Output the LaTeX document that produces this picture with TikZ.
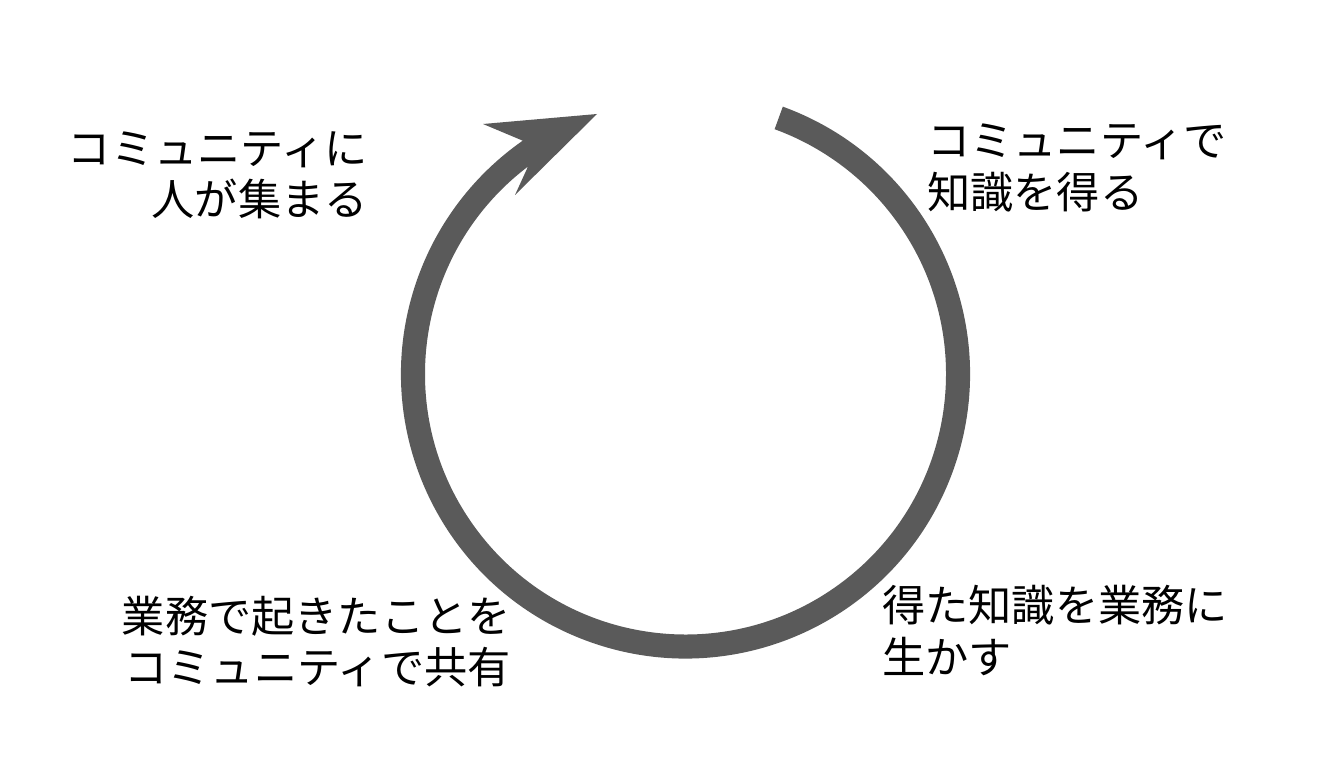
\documentclass[tikz,border=0pt]{standalone}
\usepackage{fontspec}
\newfontfamily\jpfont{Noto Sans CJK JP}
\definecolor{cyclegray}{HTML}{5A5A5A}
\tikzset{
  label text/.style={font=\jpfont\fontsize{32.4}{38.3}\selectfont, inner sep=0pt, text=black},
}
\begin{document}
\begin{tikzpicture}[x=0.75pt,y=0.75pt]
\useasboundingbox (0,0) rectangle (1338,758);
\coordinate (c) at (685.5,384);
\coordinate (start) at ([shift={(c)}]70:284.5);
\coordinate (barbA) at (483,634);
\coordinate (tip) at (597,644);
\coordinate (barbB) at (515,563);
\coordinate (notchB) at ([shift={(c)}]-232.8:260.5);
\fill[cyclegray] (start) arc[start angle=70, end angle=-235.1, radius=284.5]
  -- (barbA) -- (tip) -- (barbB) -- (notchB)
  arc[start angle=-232.8, end angle=70, radius=260.5] -- cycle;
\node[label text, align=right, anchor=east] (tl) at (368,582.5) {コミュニティに\\人が集まる};
\node[label text, align=left, anchor=west] (tr) at (927,590) {コミュニティで\\知識を得る};
\node[label text, align=right, anchor=east] (bl) at (511,116) {業務で起きたことを\\コミュニティで共有};
\node[label text, align=left, anchor=west] (br) at (882,127.5) {得た知識を業務に\\生かす};
\end{tikzpicture}
\end{document}
